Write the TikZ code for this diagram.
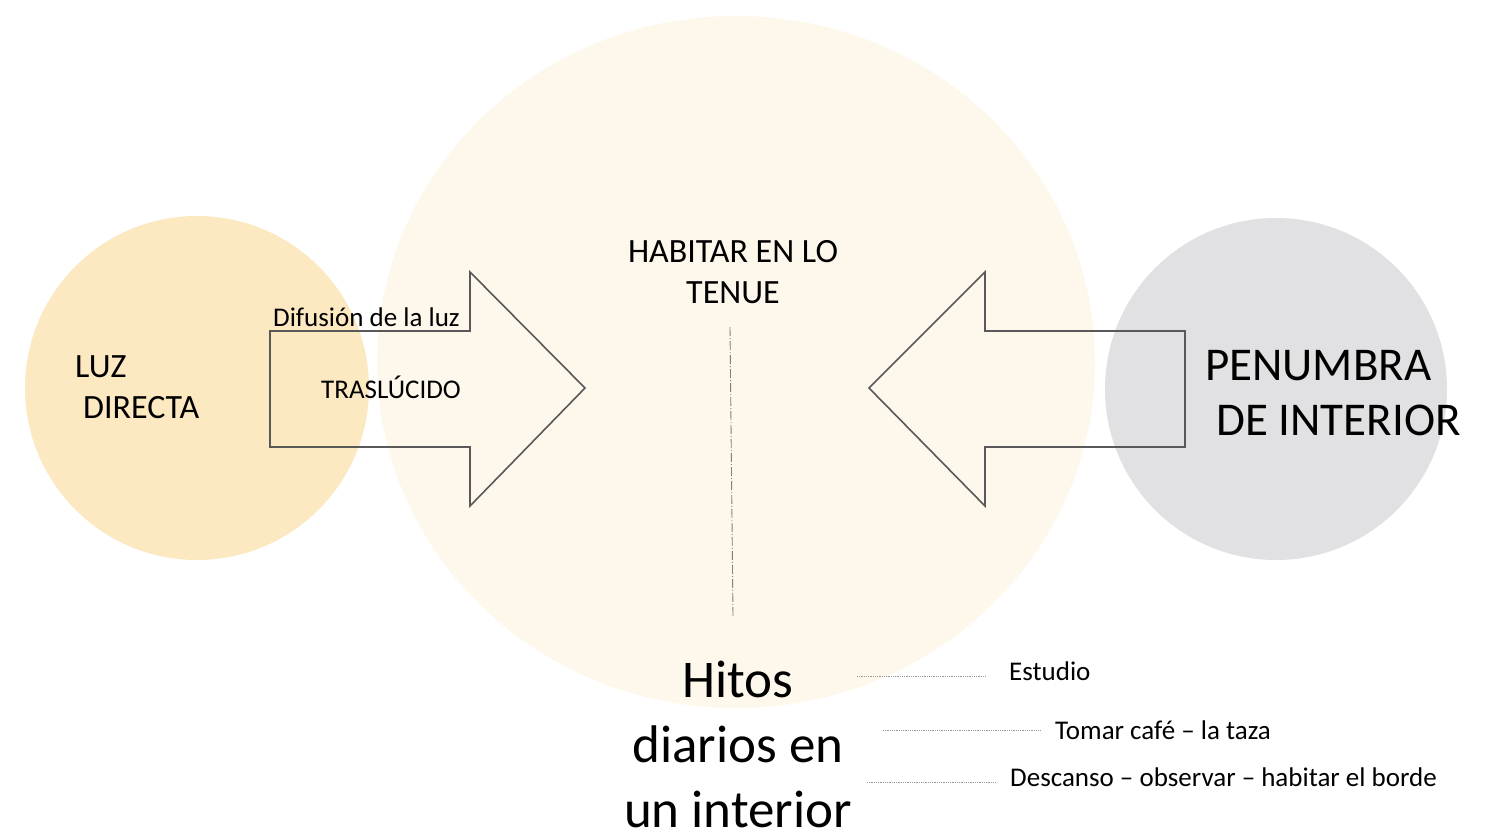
\documentclass[tikz,border=0pt]{standalone}
\usepackage{fontspec}
\setmainfont{Carlito}
\usetikzlibrary{positioning,shapes.geometric}

\definecolor{luzfill}{RGB}{252,232,193}
\definecolor{tenuefill}{RGB}{253,248,235}
\definecolor{sombrafill}{RGB}{225,224,226}
\definecolor{arrowgray}{RGB}{89,89,89}

\tikzset{
  blob/.style={circle, inner sep=0pt, minimum size=#1},
  flecha/.style={draw=arrowgray, line width=1.6pt, line join=miter},
  guia/.style={draw=gray!80, line width=0.8pt, densely dotted},
  eje/.style={draw=gray, line width=0.9pt, dash pattern=on 9pt off 2pt on 1pt off 2pt},
  texto/.style 2 args={inner sep=0pt, font=\fontsize{#1}{#2}\selectfont},
}

\begin{document}
\begin{tikzpicture}[x=1pt, y=-1pt]
\useasboundingbox (0,0) rectangle (1488,838);
\fill[white] (0,0) rectangle (1488,838);

% circles
\node[ellipse, fill=tenuefill, inner sep=0pt, minimum width=718pt,
  minimum height=692pt] (tenue) at (736,362) {};
\node[blob=344pt, fill=luzfill] (luz) at (197,388) {};
\node[blob=342pt, fill=sombrafill] (penumbra) at (1276,389) {};

% arrows
\draw[flecha] (270,331) -- (470,331) -- (470,272) -- (585,388)
  -- (470,506) -- (470,447) -- (270,447) -- cycle;
\draw[flecha] (1185,331) -- (985,331) -- (985,272) -- (869,388)
  -- (985,506) -- (985,447) -- (1185,447) -- cycle;

% texts
\node[texto={34}{41.5}, align=center] (habitar) at (733,272) {HABITAR EN LO\\TENUE};
\node[texto={34}{41.5}, align=left, anchor=west] (luztxt) at (75,387)
  {LUZ\\\hspace*{8pt}DIRECTA};
\node[texto={47}{55}, align=left, anchor=west] (penumbratxt) at (1205,393)
  {PENUMBRA\\\hspace*{11pt}DE INTERIOR};
\node[texto={27}{33}, anchor=base west] (difusion) at (273,326) {Difusión de la luz};
\node[texto={27}{33}, anchor=base west] (traslucido) at (321,398) {TRASLÚCIDO};
\node[texto={53}{65}, align=center] (hitos) at (738,744)
  {Hitos\\diarios en\\un interior};
\node[texto={27}{33}, anchor=base west] (estudio) at (1009,680) {Estudio};
\node[texto={27}{33}, anchor=base west] (cafe) at (1055,739) {Tomar café -- la taza};
\node[texto={27}{33}, anchor=base west] (descanso) at (1010,786)
  {Descanso -- observar -- habitar el borde};

% guide lines
\coordinate (ejeA) at (730,327);
\coordinate (ejeB) at (733,617);
\draw[eje] (ejeA) -- (ejeB);
\coordinate (estA) at (857,676);
\coordinate (estB) at (985,676);
\draw[guia] (estA) -- (estB);
\coordinate (cafA) at (883,730);
\coordinate (cafB) at (1041,730);
\draw[guia] (cafA) -- (cafB);
\coordinate (desA) at (867,782);
\coordinate (desB) at (995,782);
\draw[guia] (desA) -- (desB);
\end{tikzpicture}
\end{document}
